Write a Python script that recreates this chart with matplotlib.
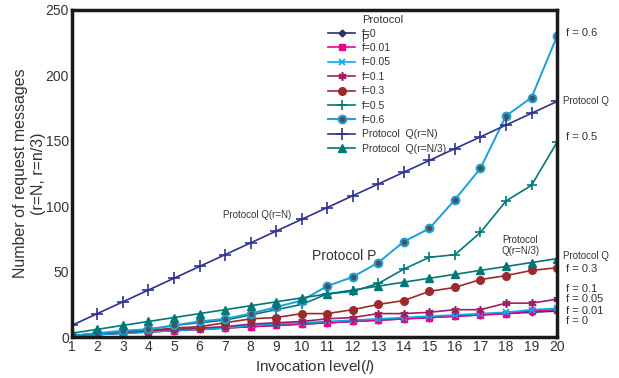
import matplotlib.pyplot as plt

plt.rcParams['font.family'] = ['Liberation Sans', 'DejaVu Sans']
plt.rcParams['mathtext.fontset'] = 'custom'
plt.rcParams['mathtext.it'] = 'Liberation Sans:italic'

levels = list(range(1, 21))

q_full = [9, 18, 27, 36, 45, 54, 63, 72, 81, 90, 99, 108, 117, 126, 135, 144, 153, 162, 171, 180]
q_third = [3, 6, 9, 12, 15, 18, 21, 24, 27, 30, 33, 36, 39, 42, 45, 48, 51, 54, 57, 60]
f_0 = [1, 2, 3, 4, 5, 6, 7, 8, 9, 10, 11, 12, 13, 14, 15, 16, 17, 18, 19, 20]
f_001 = [1, 2, 3, 4, 5, 6, 7, 8, 9, 10, 11, 12, 13, 14, 15, 16, 17, 18, 20, 21]
f_005 = [1, 2, 3, 4, 5, 6, 7, 9, 10, 11, 12, 13, 14, 15, 16, 17, 18, 19, 21, 22]
f_01 = [1, 3, 4, 5, 6, 7, 8, 10, 11, 12, 14, 15, 18, 18, 19, 21, 21, 26, 26, 29]
f_03 = [1, 3, 4, 5, 7, 8, 11, 14, 15, 18, 18, 21, 25, 28, 35, 38, 44, 47, 51, 53]
f_05 = [1, 3, 4, 6, 9, 11, 13, 17, 21, 25, 33, 35, 41, 52, 61, 63, 80, 104, 116, 149]
f_06 = [1, 3, 5, 6, 9, 12, 14, 18, 23, 28, 39, 46, 57, 73, 83, 105, 129, 169, 183, 230]

fig = plt.figure(figsize=(6.19, 3.78), dpi=100)
ax = fig.add_axes([0.116, 0.108, 0.784, 0.866])

ax.plot(levels, f_0, color='#2b2f6b', marker='D', ms=3.5, lw=1.2, label='f=0')
ax.plot(levels, f_001, color='#ec008c', marker='s', ms=4.5, lw=1.2, label='f=0.01')
ax.plot(levels, f_005, color='#00aeef', marker='x', ms=4.5, lw=1.2, mew=1.2, label='f=0.05')
ax.plot(levels, f_01, color='#9e1f63', marker=(6, 2, 0), ms=6, lw=1.2, mew=1.2, label='f=0.1')
ax.plot(levels, f_03, color='#9b2a2f', marker='o', ms=5.5, lw=1.2, label='f=0.3')
ax.plot(levels, f_05, color='#00777a', marker='+', ms=7, mew=1.2, lw=1.2, label='f=0.5')
ax.plot(levels, f_06, color='#1c9fd8', marker='o', ms=5.5, mfc='#505050', mec='#1c9fd8', mew=1.5,
        lw=1.4, label='f=0.6')
ax.plot(levels, q_full, color='#2e3192', marker='+', ms=8, mew=1.2, lw=1.2, label='Protocol  Q(r=N)')
ax.plot(levels, q_third, color='#00777a', marker='^', ms=6, lw=1.2, label='Protocol  Q(r=N/3)')

ax.set_xlim(1, 20)
ax.set_ylim(0, 250)
ax.set_xticks(levels)
ax.set_yticks([0, 50, 100, 150, 200, 250])
ax.tick_params(length=0, labelsize=10, colors='#333333', pad=2)
for sp in ax.spines.values():
    sp.set_linewidth(2.5)
    sp.set_color('#1a1a1a')

ax.set_xlabel(r'Invocation level($\mathit{l}$)', fontsize=11, color='#333333', labelpad=3)
ax.set_ylabel('Number of request messages\n(r=N, r=n/3)', fontsize=11.5, color='#333333', labelpad=0)

leg = ax.legend(loc='upper left', bbox_to_anchor=(0.52, 0.955), frameon=False, fontsize=7.5,
                handlelength=2.6, labelspacing=0.42, handletextpad=0.6, borderaxespad=0)
for t in leg.get_texts():
    t.set_color('#333333')
ax.text(0.598, 0.985, 'Protocol', transform=ax.transAxes, fontsize=8, color='#333333',
        va='top')
ax.text(0.596, 0.925, 'P', transform=ax.transAxes, fontsize=8, color='#333333', va='top')

# right-side annotations
rk = dict(fontsize=8, color='#333333', va='center', clip_on=False)
ax.text(20.35, f_06[-1] + 2, 'f = 0.6', **rk)
ax.text(20.25, q_full[-1], 'Protocol Q', fontsize=7, color='#333333', va='center', clip_on=False)
ax.text(20.35, f_05[-1] + 4, 'f = 0.5', **rk)
ax.text(20.25, q_third[-1] + 2, 'Protocol Q', fontsize=7, color='#333333', va='center', clip_on=False)
ax.text(20.35, 52, 'f = 0.3', **rk)
ax.text(20.35, 37, 'f = 0.1', **rk)
ax.text(20.35, 29, 'f = 0.05', **rk)
ax.text(20.35, 20, 'f = 0.01', **rk)
ax.text(20.35, 12, 'f = 0', **rk)
ax.text(18.55, 70, 'Protocol\nQ(r=N/3)', fontsize=7, color='#333333', ha='center', va='center',
        linespacing=1.1)
ax.text(6.9, 93, 'Protocol Q(r=N)', fontsize=7, color='#333333', va='center')
ax.text(10.4, 62, 'Protocol P', fontsize=10, color='#333333', va='center')

fig.savefig('out.png', dpi=100)
